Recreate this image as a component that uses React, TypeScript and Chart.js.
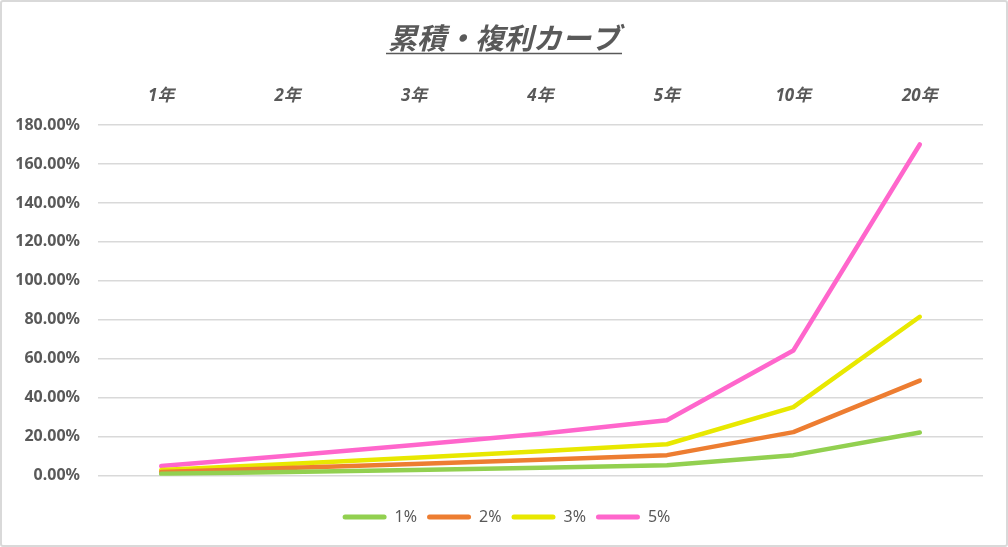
import React, { useEffect, useRef } from "react";
import { Chart, registerables } from "chart.js";

Chart.register(...registerables);

const TITLE = "累積・複利カーブ";
const categories = ["1年", "2年", "3年", "4年", "5年", "10年", "20年"];
const seriesNames = ["1%", "2%", "3%", "5%"];
const rate1 = [1.0, 2.0, 3.0, 4.1, 5.4, 10.6, 22.2];
const rate2 = [2.0, 4.0, 6.1, 8.2, 10.6, 22.4, 48.8];
const rate3 = [3.0, 6.1, 9.3, 12.6, 16.2, 35.2, 81.6];
const rate5 = [5.0, 10.3, 15.8, 21.6, 28.5, 64.3, 170.0];
const seriesColors = ["#92d050", "#ed7d31", "#e8e800", "#ff66cc"];
const yMin = 0;
const yMax = 180;
const yStep = 20;

const GRAY = "#595959";

const titlePlugin = {
  id: "underlinedTitle",
  afterDraw(chart: any) {
    const ctx = chart.ctx;
    ctx.save();
    ctx.font = "italic bold 29px 'Noto Sans CJK JP'";
    ctx.fillStyle = GRAY;
    ctx.textAlign = "center";
    ctx.textBaseline = "alphabetic";
    const cx = chart.width / 2;
    ctx.fillText(TITLE, cx, 46.5);
    const w = ctx.measureText(TITLE).width;
    ctx.strokeStyle = GRAY;
    ctx.lineWidth = 1.5;
    ctx.beginPath();
    ctx.moveTo(cx - w / 2 - 2, 51.5);
    ctx.lineTo(cx + w / 2 + 2, 51.5);
    ctx.stroke();
    ctx.restore();
  },
};

export default function App() {
  const ref = useRef<HTMLCanvasElement>(null);
  useEffect(() => {
    if (!ref.current) return;
    const allSeries = [rate1, rate2, rate3, rate5];
    const chart = new Chart(ref.current, {
      type: "line",
      data: {
        labels: categories,
        datasets: allSeries.map((d, i) => ({
          label: seriesNames[i],
          data: d,
          borderColor: seriesColors[i],
          backgroundColor: seriesColors[i],
          borderWidth: 4.5,
          borderCapStyle: "round",
          borderJoinStyle: "round",
          pointRadius: 0,
          pointHoverRadius: 0,
          tension: 0,
          fill: false,
          yAxisID: "y",
        })),
      },
      options: {
        responsive: false,
        animation: false,
        layout: { padding: { left: 5, right: 0, top: 60, bottom: 10 } },
        scales: {
          x: {
            position: "top",
            offset: true,
            grid: { display: false, drawTicks: false },
            border: { display: false },
            ticks: {
              color: GRAY,
              padding: 19,
              font: { family: "'Noto Sans', 'Noto Sans CJK JP'", size: 17, style: "italic", weight: "bold" },
            },
            afterFit: (s: any) => {
              s.height = 63;
            },
          },
          y: {
            min: yMin,
            max: yMax,
            grid: { color: "#d9d9d9", lineWidth: 1.5, drawTicks: false },
            border: { display: false },
            ticks: {
              stepSize: yStep,
              color: GRAY,
              padding: 18,
              font: { family: "'Noto Sans'", size: 16, weight: "bold" },
              callback: (v: any) => Number(v).toFixed(2) + "%",
            },
            afterFit: (s: any) => {
              s.width = 91;
            },
          },
          yRightSpace: {
            type: "linear",
            position: "right",
            display: true,
            min: yMin,
            max: yMax,
            grid: { display: false, drawTicks: false },
            border: { display: false },
            ticks: { display: false },
            afterFit: (s: any) => {
              s.width = 23;
            },
          },
        },
        plugins: {
          title: { display: false },
          tooltip: { enabled: false },
          legend: {
            position: "bottom",
            title: { display: true, text: "", font: { size: 1 }, padding: { top: 22, bottom: 0 } },
            labels: {
              color: GRAY,
              boxWidth: 44,
              boxHeight: 5,
              padding: 10,
              font: { family: "'Noto Sans'", size: 16 },
              generateLabels: (c: any) => {
                const items = Chart.defaults.plugins.legend.labels.generateLabels(c);
                return items.map((it: any) => ({
                  ...it,
                  fillStyle: it.strokeStyle,
                  lineWidth: 0,
                  borderRadius: 2.5,
                }));
              },
              useBorderRadius: true,
              borderRadius: 2.5,
            },
          },
        },
      } as any,
      plugins: [titlePlugin],
    });
    return () => chart.destroy();
  }, []);
  return (
    <div
      style={{
        position: "fixed",
        left: 0,
        top: 0,
        width: 1008,
        height: 547,
        boxSizing: "border-box",
        border: "2px solid #d9d9d9",
        borderRadius: 3,
        background: "#fff",
      }}
    >
      <canvas ref={ref} width={1004} height={543} style={{ display: "block" }} />
    </div>
  );
}
